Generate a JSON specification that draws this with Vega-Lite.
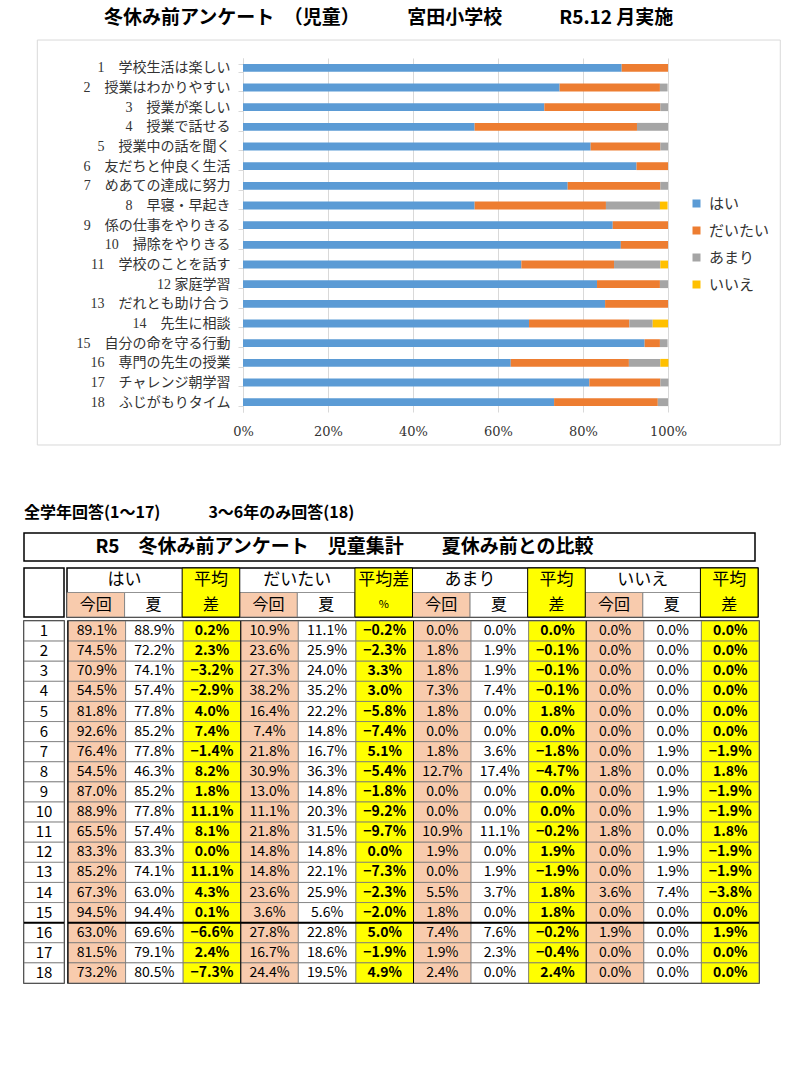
{
"$schema": "https://vega.github.io/schema/vega-lite/v6.json",
"padding": {"left": 22, "top": 8, "right": 0, "bottom": 0},
"background": "white",
"config": {"view": {"stroke": null}, "font": "Noto Sans CJK JP", "text": {"font": "Noto Sans CJK JP", "color": "black"}},
"datasets": {
"items": [
{"i":1,"label":"1　学校生活は楽しい"},{"i":2,"label":"2　授業はわかりやすい"},{"i":3,"label":"3　授業が楽しい"},{"i":4,"label":"4　授業で話せる"},{"i":5,"label":"5　授業中の話を聞く"},{"i":6,"label":"6　友だちと仲良く生活"},{"i":7,"label":"7　めあての達成に努力"},{"i":8,"label":"8　早寝・早起き"},{"i":9,"label":"9　係の仕事をやりきる"},{"i":10,"label":"10　掃除をやりきる"},{"i":11,"label":"11　学校のことを話す"},{"i":12,"label":"12 家庭学習"},{"i":13,"label":"13　だれとも助け合う"},{"i":14,"label":"14　先生に相談"},{"i":15,"label":"15　自分の命を守る行動"},{"i":16,"label":"16　専門の先生の授業"},{"i":17,"label":"17　チャレンジ朝学習"},{"i":18,"label":"18　ふじがもりタイム"}
],
"hk": [
{"g":"はい","k":"now","lab":"今回"},{"g":"はい","k":"sum","lab":"夏"},
{"g":"だいたい","k":"now","lab":"今回"},{"g":"だいたい","k":"sum","lab":"夏"},
{"g":"あまり","k":"now","lab":"今回"},{"g":"あまり","k":"sum","lab":"夏"},
{"g":"いいえ","k":"now","lab":"今回"},{"g":"いいえ","k":"sum","lab":"夏"}
],
"hdr": [
{"g":"はい","o":1,"k":"diff","a":"平均","b":"差"},
{"g":"だいたい","o":2,"k":"diff","a":"平均差","b":"%"},
{"g":"あまり","o":3,"k":"diff","a":"平均","b":"差"},
{"g":"いいえ","o":4,"k":"diff","a":"平均","b":"差"}
],
"d": [
{"i":1,"g":"はい","now":0.891,"sum":0.889,"diff":0.002},{"i":1,"g":"だいたい","now":0.109,"sum":0.111,"diff":-0.002},{"i":1,"g":"あまり","now":0,"sum":0,"diff":0},{"i":1,"g":"いいえ","now":0,"sum":0,"diff":0},
{"i":2,"g":"はい","now":0.745,"sum":0.722,"diff":0.023},{"i":2,"g":"だいたい","now":0.236,"sum":0.259,"diff":-0.023},{"i":2,"g":"あまり","now":0.018,"sum":0.019,"diff":-0.001},{"i":2,"g":"いいえ","now":0,"sum":0,"diff":0},
{"i":3,"g":"はい","now":0.709,"sum":0.741,"diff":-0.032},{"i":3,"g":"だいたい","now":0.273,"sum":0.240,"diff":0.033},{"i":3,"g":"あまり","now":0.018,"sum":0.019,"diff":-0.001},{"i":3,"g":"いいえ","now":0,"sum":0,"diff":0},
{"i":4,"g":"はい","now":0.545,"sum":0.574,"diff":-0.029},{"i":4,"g":"だいたい","now":0.382,"sum":0.352,"diff":0.030},{"i":4,"g":"あまり","now":0.073,"sum":0.074,"diff":-0.001},{"i":4,"g":"いいえ","now":0,"sum":0,"diff":0},
{"i":5,"g":"はい","now":0.818,"sum":0.778,"diff":0.040},{"i":5,"g":"だいたい","now":0.164,"sum":0.222,"diff":-0.058},{"i":5,"g":"あまり","now":0.018,"sum":0,"diff":0.018},{"i":5,"g":"いいえ","now":0,"sum":0,"diff":0},
{"i":6,"g":"はい","now":0.926,"sum":0.852,"diff":0.074},{"i":6,"g":"だいたい","now":0.074,"sum":0.148,"diff":-0.074},{"i":6,"g":"あまり","now":0,"sum":0,"diff":0},{"i":6,"g":"いいえ","now":0,"sum":0,"diff":0},
{"i":7,"g":"はい","now":0.764,"sum":0.778,"diff":-0.014},{"i":7,"g":"だいたい","now":0.218,"sum":0.167,"diff":0.051},{"i":7,"g":"あまり","now":0.018,"sum":0.036,"diff":-0.018},{"i":7,"g":"いいえ","now":0,"sum":0.019,"diff":-0.019},
{"i":8,"g":"はい","now":0.545,"sum":0.463,"diff":0.082},{"i":8,"g":"だいたい","now":0.309,"sum":0.363,"diff":-0.054},{"i":8,"g":"あまり","now":0.127,"sum":0.174,"diff":-0.047},{"i":8,"g":"いいえ","now":0.018,"sum":0,"diff":0.018},
{"i":9,"g":"はい","now":0.870,"sum":0.852,"diff":0.018},{"i":9,"g":"だいたい","now":0.130,"sum":0.148,"diff":-0.018},{"i":9,"g":"あまり","now":0,"sum":0,"diff":0},{"i":9,"g":"いいえ","now":0,"sum":0.019,"diff":-0.019},
{"i":10,"g":"はい","now":0.889,"sum":0.778,"diff":0.111},{"i":10,"g":"だいたい","now":0.111,"sum":0.203,"diff":-0.092},{"i":10,"g":"あまり","now":0,"sum":0,"diff":0},{"i":10,"g":"いいえ","now":0,"sum":0.019,"diff":-0.019},
{"i":11,"g":"はい","now":0.655,"sum":0.574,"diff":0.081},{"i":11,"g":"だいたい","now":0.218,"sum":0.315,"diff":-0.097},{"i":11,"g":"あまり","now":0.109,"sum":0.111,"diff":-0.002},{"i":11,"g":"いいえ","now":0.018,"sum":0,"diff":0.018},
{"i":12,"g":"はい","now":0.833,"sum":0.833,"diff":0},{"i":12,"g":"だいたい","now":0.148,"sum":0.148,"diff":0},{"i":12,"g":"あまり","now":0.019,"sum":0,"diff":0.019},{"i":12,"g":"いいえ","now":0,"sum":0.019,"diff":-0.019},
{"i":13,"g":"はい","now":0.852,"sum":0.741,"diff":0.111},{"i":13,"g":"だいたい","now":0.148,"sum":0.221,"diff":-0.073},{"i":13,"g":"あまり","now":0,"sum":0.019,"diff":-0.019},{"i":13,"g":"いいえ","now":0,"sum":0.019,"diff":-0.019},
{"i":14,"g":"はい","now":0.673,"sum":0.630,"diff":0.043},{"i":14,"g":"だいたい","now":0.236,"sum":0.259,"diff":-0.023},{"i":14,"g":"あまり","now":0.055,"sum":0.037,"diff":0.018},{"i":14,"g":"いいえ","now":0.036,"sum":0.074,"diff":-0.038},
{"i":15,"g":"はい","now":0.945,"sum":0.944,"diff":0.001},{"i":15,"g":"だいたい","now":0.036,"sum":0.056,"diff":-0.020},{"i":15,"g":"あまり","now":0.018,"sum":0,"diff":0.018},{"i":15,"g":"いいえ","now":0,"sum":0,"diff":0},
{"i":16,"g":"はい","now":0.630,"sum":0.696,"diff":-0.066},{"i":16,"g":"だいたい","now":0.278,"sum":0.228,"diff":0.050},{"i":16,"g":"あまり","now":0.074,"sum":0.076,"diff":-0.002},{"i":16,"g":"いいえ","now":0.019,"sum":0,"diff":0.019},
{"i":17,"g":"はい","now":0.815,"sum":0.791,"diff":0.024},{"i":17,"g":"だいたい","now":0.167,"sum":0.186,"diff":-0.019},{"i":17,"g":"あまり","now":0.019,"sum":0.023,"diff":-0.004},{"i":17,"g":"いいえ","now":0,"sum":0,"diff":0},
{"i":18,"g":"はい","now":0.732,"sum":0.805,"diff":-0.073},{"i":18,"g":"だいたい","now":0.244,"sum":0.195,"diff":0.049},{"i":18,"g":"あまり","now":0.024,"sum":0,"diff":0.024},{"i":18,"g":"いいえ","now":0,"sum":0,"diff":0}
]
},
"spacing": 58,
"resolve": {"scale": {"color": "independent"}, "legend": {"color": "independent"}},
"vconcat": [
{"spacing": 11,
 "resolve": {"scale": {"color": "independent"}, "legend": {"color": "independent"}},
 "hconcat": [
  {"width": 1, "height": 1, "data": {"values": []}, "mark": "text", "encoding": {}},
  {"width": 425, "height": 354,
   "title": {"text": "冬休み前アンケート　（児童）　　　宮田小学校　　　R5.12 月実施", "fontSize": 19, "fontWeight": "bold", "font": "Noto Sans CJK JP", "color": "black", "anchor": "start", "frame": "group", "dx": -139, "offset": 12},
   "resolve": {"scale": {"y": "independent"}},
   "layer": [
    {"data": {"values": [{}]},
     "mark": {"type": "rect", "fill": "transparent", "stroke": "#D9D9D9", "strokeWidth": 1},
     "encoding": {
       "x": {"datum": -0.484, "type": "quantitative", "scale": {"domain": [0, 1], "nice": false}},
       "x2": {"datum": 1.2642},
       "y": {"datum": 1.0508, "type": "quantitative", "scale": {"domain": [0, 1], "nice": false}, "axis": null},
       "y2": {"datum": -0.0932}
     }},
    {"data": {"name": "d"},
     "transform": [
       {"lookup": "i", "from": {"data": {"name": "items"}, "key": "i", "fields": ["label"]}},
       {"lookup": "g", "from": {"data": {"name": "hdr"}, "key": "g", "fields": ["o"]}}
     ],
     "mark": {"type": "bar"},
     "encoding": {
       "y": {"field": "label", "type": "nominal", "sort": {"field": "i", "op": "min", "order": "ascending"},
             "scale": {"paddingInner": 0.6, "paddingOuter": 0.3},
             "axis": {"title": null, "domain": true, "domainColor": "#D9D9D9", "ticks": true, "tickColor": "#D9D9D9", "tickSize": 5, "tickBand": "extent", "labelFont": "Liberation Serif, Noto Sans CJK JP", "labelFontSize": 14, "labelColor": "#333333", "labelPadding": 8, "labelLimit": 300}},
       "x": {"field": "now", "type": "quantitative", "stack": "zero", "scale": {"domain": [0, 1], "nice": false},
             "axis": {"title": null, "values": [0, 0.2, 0.4, 0.6, 0.8, 1], "format": "%", "grid": true, "gridColor": "#D9D9D9", "domain": false, "ticks": false, "labelFlush": false, "labelFont": "DejaVu Serif", "labelFontSize": 13, "labelColor": "#333333", "labelPadding": 13}},
       "order": {"field": "o", "type": "quantitative", "sort": "ascending"},
       "color": {"field": "g", "type": "nominal",
                 "scale": {"domain": ["はい", "だいたい", "あまり", "いいえ"], "range": ["#5B9BD5", "#ED7D31", "#A5A5A5", "#FFC000"]},
                 "legend": {"title": null, "orient": "none", "legendX": 446, "legendY": 138, "symbolType": "square", "symbolSize": 64, "symbolStrokeWidth": 0, "labelFont": "Noto Sans CJK JP", "labelFontSize": 15, "labelColor": "#333333", "rowPadding": 11, "labelOffset": 5, "padding": 0}}
     }}
   ]}
]},
{"spacing": 4, "vconcat": [
  {"width": 731, "height": 28,
   "view": {"stroke": "black", "strokeWidth": 1.5},
   "title": {"text": "全学年回答(1～17)　　　3～6年のみ回答(18)", "anchor": "start", "frame": "group", "fontSize": 16, "fontWeight": "bold", "font": "Noto Sans CJK JP", "color": "black", "offset": 12},
   "data": {"values": [{"t": "R5　冬休み前アンケート　児童集計　　夏休み前との比較"}]},
   "mark": {"type": "text", "fontSize": 19, "fontWeight": "bold", "dx": -45},
   "encoding": {"text": {"field": "t"}}},
  {"spacing": 0, "vconcat": [
    {"spacing": 0, "hconcat": [
      {"width": 40, "height": 49, "view": {"stroke": "black", "strokeWidth": 1.5}, "data": {"values": []}, "mark": "text", "encoding": {}},
      {"width": 691, "height": 49, "view": {"stroke": "black", "strokeWidth": 1.5},
       "layer": [
        {"data": {"name": "hk"},
         "mark": {"type": "rect", "stroke": "#777777", "strokeWidth": 0.8},
         "encoding": {
           "x": {"field": "g", "type": "nominal", "scale": {"domain": ["はい", "だいたい", "あまり", "いいえ"], "paddingInner": 0, "paddingOuter": 0}, "axis": null},
           "xOffset": {"field": "k", "type": "nominal", "scale": {"domain": ["now", "sum", "diff"], "paddingInner": 0, "paddingOuter": 0}},
           "y": {"datum": "h2", "type": "nominal", "scale": {"domain": ["h1", "h2"], "paddingInner": 0, "paddingOuter": 0}, "axis": null},
           "fill": {"field": "k", "type": "nominal", "scale": {"domain": ["now", "sum", "diff"], "range": ["#F8CBAD", "#FFFFFF", "#FFFF00"]}, "legend": null}}},
        {"data": {"name": "hk"},
         "mark": {"type": "text", "fontSize": 16},
         "encoding": {
           "x": {"field": "g", "type": "nominal", "axis": null},
           "xOffset": {"field": "k", "type": "nominal"},
           "y": {"datum": "h2", "type": "nominal", "axis": null},
           "text": {"field": "lab"}}},
        {"data": {"name": "hdr"},
         "mark": {"type": "rect", "stroke": "black", "strokeWidth": 1},
         "encoding": {
           "x": {"field": "g", "type": "nominal", "axis": null},
           "xOffset": {"field": "k", "type": "nominal"},
           "fill": {"field": "k", "type": "nominal", "legend": null}}},
        {"data": {"name": "hdr"},
         "mark": {"type": "text", "fontSize": 17},
         "encoding": {
           "x": {"field": "g", "type": "nominal", "axis": null},
           "xOffset": {"field": "k", "type": "nominal"},
           "y": {"datum": "h1", "type": "nominal", "axis": null},
           "text": {"field": "a"}}},
        {"data": {"name": "hdr"},
         "transform": [{"filter": "datum.b != '%'"}],
         "mark": {"type": "text", "fontSize": 16},
         "encoding": {
           "x": {"field": "g", "type": "nominal", "axis": null},
           "xOffset": {"field": "k", "type": "nominal"},
           "y": {"datum": "h2", "type": "nominal", "axis": null},
           "text": {"field": "b"}}},
        {"data": {"name": "hdr"},
         "transform": [{"filter": "datum.b == '%'"}],
         "mark": {"type": "text", "fontSize": 11},
         "encoding": {
           "x": {"field": "g", "type": "nominal", "axis": null},
           "xOffset": {"field": "k", "type": "nominal"},
           "y": {"datum": "h2", "type": "nominal", "axis": null},
           "text": {"field": "b"}}},
        {"data": {"name": "hdr"},
         "mark": {"type": "text", "fontSize": 17},
         "encoding": {
           "x": {"field": "g", "type": "nominal", "bandPosition": 0.3333, "axis": null},
           "y": {"datum": "h1", "type": "nominal", "axis": null},
           "text": {"field": "g"}}}
       ]}
    ]},
    {"spacing": 0, "hconcat": [
      {"width": 40, "height": 362, "view": {"stroke": "black", "strokeWidth": 1.5},
       "layer": [
        {"data": {"name": "d"}, "transform": [{"filter": "datum.g == 'はい'"}],
         "mark": {"type": "rect", "fill": "white", "stroke": "#777777", "strokeWidth": 0.8},
         "encoding": {"y": {"field": "i", "type": "ordinal", "scale": {"paddingInner": 0, "paddingOuter": 0}, "axis": null}}},
        {"data": {"name": "d"}, "transform": [{"filter": "datum.g == 'はい'"}],
         "mark": {"type": "text", "fontSize": 15},
         "encoding": {"y": {"field": "i", "type": "ordinal", "axis": null}, "text": {"field": "i"}}},
        {"data": {"values": [{}]},
         "mark": {"type": "rule", "color": "black", "strokeWidth": 2},
         "encoding": {"y": {"datum": 16, "type": "ordinal", "bandPosition": 0, "axis": null}}}
       ]},
      {"width": 691, "height": 362, "view": {"stroke": "black", "strokeWidth": 1.5},
       "layer": [
        {"data": {"name": "d"}, "transform": [{"fold": ["now", "sum", "diff"], "as": ["kind", "v"]}],
         "mark": {"type": "rect", "stroke": "#777777", "strokeWidth": 0.8},
         "encoding": {
           "x": {"field": "g", "type": "nominal", "scale": {"domain": ["はい", "だいたい", "あまり", "いいえ"], "paddingInner": 0, "paddingOuter": 0}, "axis": null},
           "xOffset": {"field": "kind", "type": "nominal", "scale": {"domain": ["now", "sum", "diff"], "paddingInner": 0, "paddingOuter": 0}},
           "y": {"field": "i", "type": "ordinal", "scale": {"paddingInner": 0, "paddingOuter": 0}, "axis": null},
           "fill": {"field": "kind", "type": "nominal", "scale": {"domain": ["now", "sum", "diff"], "range": ["#F8CBAD", "#FFFFFF", "#FFFF00"]}, "legend": null}}},
        {"data": {"name": "d"}, "transform": [{"fold": ["now", "sum"], "as": ["kind", "v"]}],
         "mark": {"type": "text", "fontSize": 14},
         "encoding": {
           "x": {"field": "g", "type": "nominal", "axis": null},
           "xOffset": {"field": "kind", "type": "nominal"},
           "y": {"field": "i", "type": "ordinal", "axis": null},
           "text": {"field": "v", "type": "quantitative", "format": ".1%"}}},
        {"data": {"name": "d"}, "transform": [{"fold": ["diff"], "as": ["kind", "v"]}],
         "mark": {"type": "text", "fontSize": 14, "fontWeight": "bold"},
         "encoding": {
           "x": {"field": "g", "type": "nominal", "axis": null},
           "xOffset": {"field": "kind", "type": "nominal"},
           "y": {"field": "i", "type": "ordinal", "axis": null},
           "text": {"field": "v", "type": "quantitative", "format": ".1%"}}},
        {"data": {"name": "hdr"},
         "mark": {"type": "rule", "color": "black", "strokeWidth": 1},
         "encoding": {"x": {"field": "g", "type": "nominal", "bandPosition": 0, "axis": null}}},
        {"data": {"values": [{}]},
         "mark": {"type": "rule", "color": "black", "strokeWidth": 2},
         "encoding": {"y": {"datum": 16, "type": "ordinal", "bandPosition": 0, "axis": null}}}
       ]}
    ]}
  ]}
]}
]
}
